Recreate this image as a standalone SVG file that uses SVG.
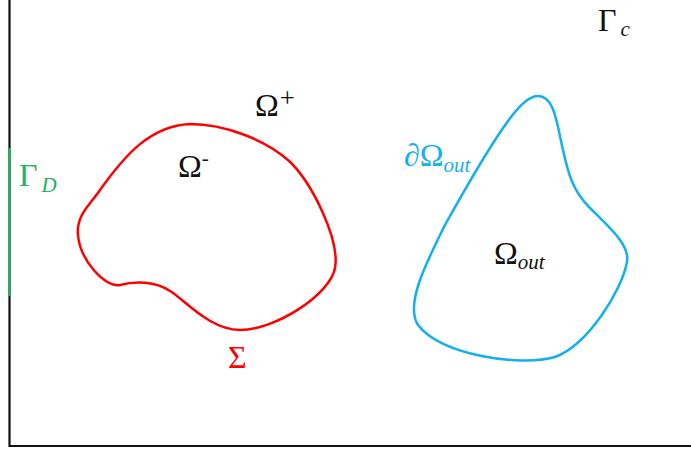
<svg xmlns="http://www.w3.org/2000/svg" width="691" height="450" viewBox="0 0 691 450">
<style>
.t{font-family:"Liberation Serif","DejaVu Serif",serif;font-size:32px;fill:#111}
.s{font-family:"Liberation Serif","DejaVu Serif",serif;font-style:italic;font-size:21px}
.sup{font-family:"Liberation Serif","DejaVu Serif",serif;font-size:21px}
.curve{fill:none;stroke-width:2.5;stroke-linejoin:round}
</style>
<rect width="691" height="450" fill="#fff"/>
<g id="boundary">
<path d="M9.5 0 V446 H691" fill="none" stroke="#111" stroke-width="2.2"/>
<line x1="9.5" y1="148" x2="9.5" y2="296" stroke="#22b35c" stroke-width="2.4"/>
</g>
<g id="sigma">
<path class="curve" stroke="#ff0000" d="M190 124 C225 124 265 140 288 160 C312 182 340 240 335 268 C330 295 275 330 240 330 C210 330 185 300 170 291 C155 281 135 281 120 285 C105 288 80 260 78 235 C76 215 90 205 100 190 C125 155 150 126 190 124 Z"/>
</g>
<g id="omega-out">
<path class="curve" stroke="#12b0ec" d="M538 96 C555 96 557 125 563 150 C568 172 572 190 590 208 C610 228 630 245 627 262 C622 290 588 345 555 357 C520 367 440 355 418 325 C405 305 425 265 445 225 C470 180 500 130 515 112 C525 100 532 96 538 96 Z"/>
</g>
<g id="labels">
<text class="t" x="19" y="186" style="fill:#22b35c">Γ<tspan class="s" dx="4" dy="6" style="fill:#22b35c">D</tspan></text>
<text class="t" x="255" y="116">Ω<tspan class="sup" dx="1" dy="-9" style="font-size:27px">+</tspan></text>
<text class="t" x="178" y="177">Ω<tspan class="sup" dy="-12">-</tspan></text>
<text class="t" x="404" y="166" style="fill:#12b0ec">∂Ω<tspan class="s" dy="6" style="fill:#12b0ec">out</tspan></text>
<text class="t" x="494" y="264">Ω<tspan class="s" dy="5">out</tspan></text>
<text class="t" x="598" y="31">Γ<tspan class="s" dx="4" dy="5">c</tspan></text>
<text class="t" x="228" y="368" style="fill:#ff0000">Σ</text>
</g>
</svg>
